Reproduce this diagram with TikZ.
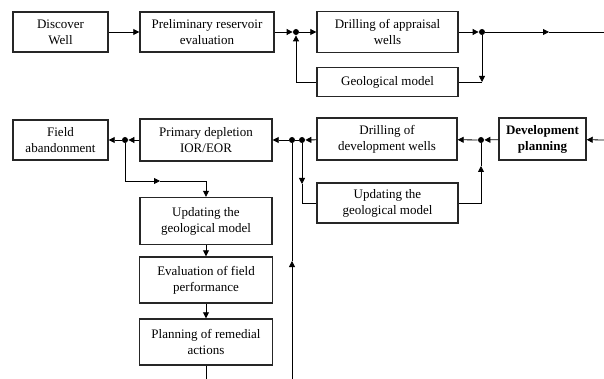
\documentclass[tikz,border=0pt]{standalone}
\usepackage{fontspec}
\setmainfont{Liberation Serif}
\usetikzlibrary{arrows.meta}

\tikzset{
  stage/.style={draw=black!85, line width=1.4pt, fill=white, align=center,
    inner sep=1pt, font=\fontsize{13}{16}\selectfont},
  junc/.style={circle, fill, inner sep=0pt, minimum size=6pt},
  flow/.style={-{Triangle[length=6pt,width=6pt]}},
}

\begin{document}
\begin{tikzpicture}[x=1pt,y=-1pt,line width=0.8pt]
      \useasboundingbox (0,0) rectangle (604,379);

      %%% appraisal row %%%
      \node (disc) at (60.5,32) [stage, minimum width=95pt, minimum height=40pt] {Discover\\Well};
      \node (prelim) at (207,32) [stage, minimum width=134pt, minimum height=40pt] {Preliminary reservoir\\evaluation};
      \node (drillA) at (387.5,32) [stage, minimum width=141pt, minimum height=41pt] {Drilling of appraisal\\wells};
      \node (geo) at (387.5,82) [stage, minimum width=141pt, minimum height=29pt] {Geological model};
      \node (jA) at (296,32) [junc] {};
      \node (jB) at (482,32) [junc] {};
      \coordinate (outA) at (549,32);
      \coordinate (endA) at (604,32);

      \draw[flow] (disc) to (prelim);
      \draw[flow] (prelim) to (jA);
      \draw[flow] (geo.west) -| (jA);
      \draw[flow] (jA) to (drillA);
      \draw[flow] (drillA) to (jB);
      \draw[flow] (jB) to (geo.east -| jB);
      \draw (geo.east) to (geo.east -| jB);
      \draw[flow] (jB) to (outA);
      \draw (outA) to (endA);

      %%% development row %%%
      \node (plan) at (542.5,139) [stage, minimum width=87pt, minimum height=42pt, font=\fontsize{13}{16}\selectfont\bfseries] {Development\\planning};
      \node (drillD) at (387,139) [stage, minimum width=140pt, minimum height=42pt] {Drilling of\\development wells};
      \node (updB) at (387.5,203) [stage, minimum width=141pt, minimum height=40pt] {Updating the\\geological model};
      \node (prim) at (206,140) [stage, minimum width=132pt, minimum height=42pt] {Primary depletion\\IOR/EOR};
      \node (aband) at (60.5,140) [stage, minimum width=95pt, minimum height=40pt] {Field\\abandonment};
      \node (jC) at (481,140) [junc] {};
      \node (jD) at (302,140) [junc] {};
      \node (jE) at (292,140) [junc] {};
      \node (jF) at (125,140) [junc] {};
      \coordinate (inB) at (604,140);
      \coordinate (upC) at (481,166);
      \coordinate (downD) at (302,184);
      \coordinate (botE) at (292,379);
      \coordinate (upE) at (292,261);
      \coordinate (midF) at (160,181);

      \draw[flow] (inB) to (plan);
      \draw[flow] (plan) to (jC);
      \draw[flow] (jC) to (drillD);
      \draw[flow] (updB.east) -| (upC);
      \draw (upC) to (jC);
      \draw[flow] (drillD) to (jD);
      \draw[flow] (jD) to (downD);
      \draw (downD) |- (updB.west);
      \draw (jD) to (jE);
      \draw[flow] (jE) to (prim);
      \draw[flow] (botE) to (upE);
      \draw (upE) to (jE);
      \draw[flow] (prim) to (jF);
      \draw[flow] (jF) to (aband);

      %%% monitoring column %%%
      \node (updA) at (206,221) [stage, minimum width=132pt, minimum height=47pt] {Updating the\\geological model};
      \node (evalF) at (206,280) [stage, minimum width=133pt, minimum height=46pt] {Evaluation of field\\performance};
      \node (remed) at (206,342) [stage, minimum width=133pt, minimum height=46pt] {Planning of remedial\\actions};
      \coordinate (endR) at (206,379);

      \draw[flow] (jF) |- (midF);
      \draw[flow] (midF) -| (updA);
      \draw[flow] (updA) to (evalF);
      \draw[flow] (evalF) to (remed);
      \draw (remed) to (endR);

\end{tikzpicture}
\end{document}
